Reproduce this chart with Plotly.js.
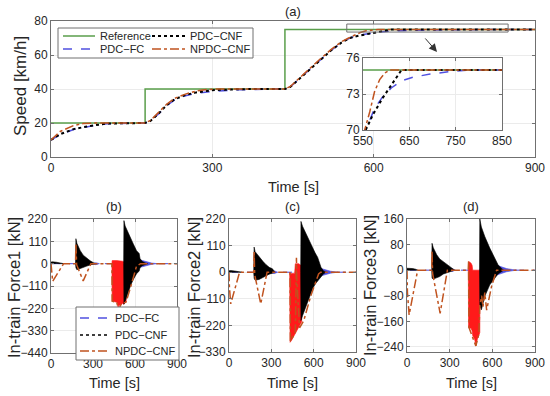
<!DOCTYPE html>
<html><head><meta charset="utf-8">
<script src="https://cdn.plot.ly/plotly-3.0.1.min.js"></script>
<style>html,body{margin:0;padding:0;background:#fff}#chart{width:550px;height:396px}</style>
</head><body><div id="chart"></div>
<script>
// ---------- (a) Speed ----------
const refT = [0, 175, 435, 900];
const refV = [20, 40, 75, 75];

const npdcT = [0,17,42,60,80,120,175,185,200,215,230,250,270,290,310,350,435,445,460,480,500,520,540,553.6,564.5,575,586,597,608,900];
const npdcV = [10,15,18.5,19.7,20,20,20,21.5,26,31,34.5,37,38.8,39.7,40,40,40,41.5,46,52,57.5,63,67.8,70,71.5,73.2,74.2,74.75,75,75];

const cnfT = [0,17,42,73,104,140,175,185,200,215,230,250,270,300,350,400,435,445,460,480,500,520,540,555.8,571.7,593,615,633,900];
const cnfV = [10,13.4,16.4,18.3,19.7,20,20,21.2,25.5,30.5,34,36.5,38,39.3,39.9,40,40,41.2,45.5,51.5,57,62.5,67.3,70,71.3,72.7,74,75,75];

const fcT = [0,17,42,73,104,140,175,185,200,215,230,250,270,300,350,400,435,445,460,480,500,520,540,555.8,575,593,611,633,658,695,745,781,900];
const fcV = [10,13.2,16.2,18.1,19.5,19.9,20,21.2,25.3,30.2,33.6,36,37.5,38.6,39.5,39.9,40,41.2,45.5,51.5,57,62.5,67.3,70,71.8,72.8,73.5,74.1,74.4,74.66,74.9,75,75];

// ---------- (b) In-train Force1 ----------
const f1CnfA_t = [0,10,40,70,90],        f1CnfA_hi = [8,9,7,4,0],    f1CnfA_lo = [0,1,1,0,0];
const f1CnfB_t = [175,178,185,209,230,256,280,303,320];
const f1CnfB_hi = [0,123,100,64,42,27,14,5,0];
const f1CnfB_lo = [0,-20,-30,-25,-20,-12,-6,-3,0];
const f1CnfC_t = [519,521,530,552,570,588,611,630,636,650,670,690];
const f1CnfC_hi = [0,212,185,148,120,97,64,50,25,12,4,0];
const f1CnfC_lo = [0,-200,-185,-140,-105,-78,-50,-36,-20,-10,-4,0];
const f1Red_t = [435,437,470,475,481,483,500,510,520,537,538];
const f1Red_hi = [0,15,15,15,15,15,15,12,10,10,0];
const f1Red_lo = [0,-185,-190,-200,-228,-205,-205,-195,-200,-188,0];
const f1FcA_t = [295,320,345], f1FcA_hi = [0,5,0], f1FcA_lo = [0,-5,0];
const f1FcB_t = [600,640,660,690,720,760];
const f1FcB_hi = [25,18,12,6,3,0];
const f1FcB_lo = [-25,-18,-12,-6,-3,0];
const f1NpdcT = [0,5,12,90,175,178,183,230,285,435,437,470,482,500,520,537,575,611,640,900];
const f1NpdcV = [0,-40,-87,0,0,100,-5,-85,0,0,-185,-190,-230,-200,-195,-188,-100,-12,0,0];

// ---------- (c) In-train Force2 ----------
const f2CnfA_t = [0,10,40,70,90],        f2CnfA_hi = [6,7,5,3,0],    f2CnfA_lo = [0,0,0,0,0];
const f2CnfB_t = [175,178,185,213,240,261,285,308,325];
const f2CnfB_hi = [0,104,85,62,45,32,20,14,0];
const f2CnfB_lo = [0,-25,-33,-30,-22,-15,-8,-4,0];
const f2CnfC_t = [508,510,521,545,570,592,610,628,640,652,670,690];
const f2CnfC_hi = [0,210,190,159,130,104,80,62,40,20,5,0];
const f2CnfC_lo = [0,-200,-180,-140,-100,-69,-50,-36,-28,-18,-6,0];
const f2Red_t = [430,433,445,455,465,470,480,495,505,515,518];
const f2Red_hi = [0,-5,-5,-5,-5,35,35,35,30,30,0];
const f2Red_lo = [0,-290,-280,-270,-255,-250,-245,-230,-215,-205,0];
const f2FcA_t = [290,320,345], f2FcA_hi = [0,6,0], f2FcA_lo = [0,-6,0];
const f2FcB_t = [600,640,660,690,720,770];
const f2FcB_hi = [25,20,14,8,4,0];
const f2FcB_lo = [-25,-20,-14,-8,-4,0];
const f2NpdcT = [0,3,12,75,175,178,182,225,270,433,435,470,478,480,500,530,580,635,650,900];
const f2NpdcV = [0,-60,-131,0,0,90,-10,-131,0,0,-285,-250,60,-20,-230,-200,-97,-7,0,0];

// ---------- (d) In-train Force3 ----------
const f3CnfA_t = [0,10,40,60,75],        f3CnfA_hi = [6,6,5,3,0],    f3CnfA_lo = [0,0,0,0,0];
const f3CnfB_t = [174,176,185,209,230,256,280,302,320,335];
const f3CnfB_hi = [0,84,70,48,35,27,18,13,5,0];
const f3CnfB_lo = [0,-25,-28,-25,-20,-12,-8,-5,-2,0];
const f3CnfC_t = [510,512,523,547,582,616,640,663,680];
const f3CnfC_hi = [0,160,135,105,69,37,17,6,0];
const f3CnfC_lo = [0,-110,-124,-82,-46,-25,-12,-5,0];
const f3Red_t = [431,433,450,458,462,475,485,495,505,512,513];
const f3Red_hi = [0,27,22,15,0,0,0,0,0,0,0];
const f3Red_lo = [0,-180,-182,-190,-205,-215,-237,-215,-205,-195,0];
const f3FcA_t = [300,320,340], f3FcA_hi = [0,4,0], f3FcA_lo = [0,-4,0];
const f3FcB_t = [600,640,665,700,740,770];
const f3FcB_hi = [20,14,9,5,2,0];
const f3FcB_lo = [-20,-14,-9,-5,-2,0];
const f3NpdcT = [0,3,15,75,174,176,180,233,284,431,433,436,484,505,512,525,534,547,560,595,630,900];
const f3NpdcV = [0,-70,-140,0,0,60,-10,-135,0,0,27,-180,-237,-200,-110,-80,-115,-70,-125,-50,0,0];

// ---------- styling ----------
const C_REF = '#5a9e4b', C_FC = '#5050e0', C_CNF = '#000000', C_NPDC = '#c0531f', C_RED = '#ff1a1a';
const FONT = 'Liberation Sans, Arial, sans-serif';
const TXT = '#262626';
const W = 550, H = 396;
const px = v => v / W, py = v => 1 - v / H;

function line(x, y, color, dash, width, xa, ya, shape) {
  return {type:'scatter', mode:'lines', x, y, xaxis:xa, yaxis:ya, showlegend:false, hoverinfo:'skip',
          line:{color, dash, width, shape: shape || 'linear'}};
}
// filled band between lower and upper envelope (two traces, second fills to the first)
function band(t, hi, lo, color, xa, ya) {
  return [
    {type:'scatter', mode:'lines', x:t, y:lo, xaxis:xa, yaxis:ya, showlegend:false, hoverinfo:'skip',
     line:{color, width:0.6}},
    {type:'scatter', mode:'lines', x:t, y:hi, xaxis:xa, yaxis:ya, showlegend:false, hoverinfo:'skip',
     line:{color, width:0.6}, fill:'tonexty', fillcolor:color}
  ];
}

const traces = [];
// main
traces.push(line(refT, refV, C_REF, 'solid', 1.5, 'x', 'y', 'hv'));
traces.push(line(fcT, fcV, C_FC, 'dash', 1.5, 'x', 'y'));
traces.push(line(cnfT, cnfV, C_CNF, 'dot', 2, 'x', 'y'));
traces.push(line(npdcT, npdcV, C_NPDC, 'dashdot', 1.5, 'x', 'y'));
// inset
traces.push(line(refT, refV, C_REF, 'solid', 1.5, 'x2', 'y2', 'hv'));
traces.push(line(fcT, fcV, C_FC, 'dash', 1.5, 'x2', 'y2'));
traces.push(line(cnfT, cnfV, C_CNF, 'dot', 2, 'x2', 'y2'));
traces.push(line(npdcT, npdcV, C_NPDC, 'dashdot', 1.5, 'x2', 'y2'));

const panels = [
  {xa:'x3', ya:'y3', fc:[[f1FcA_t,f1FcA_hi,f1FcA_lo],[f1FcB_t,f1FcB_hi,f1FcB_lo]], red:[f1Red_t,f1Red_hi,f1Red_lo],
   cnf:[[f1CnfA_t,f1CnfA_hi,f1CnfA_lo],[f1CnfB_t,f1CnfB_hi,f1CnfB_lo],[f1CnfC_t,f1CnfC_hi,f1CnfC_lo]], np:[f1NpdcT,f1NpdcV]},
  {xa:'x4', ya:'y4', fc:[[f2FcA_t,f2FcA_hi,f2FcA_lo],[f2FcB_t,f2FcB_hi,f2FcB_lo]], red:[f2Red_t,f2Red_hi,f2Red_lo],
   cnf:[[f2CnfA_t,f2CnfA_hi,f2CnfA_lo],[f2CnfB_t,f2CnfB_hi,f2CnfB_lo],[f2CnfC_t,f2CnfC_hi,f2CnfC_lo]], np:[f2NpdcT,f2NpdcV]},
  {xa:'x5', ya:'y5', fc:[[f3FcA_t,f3FcA_hi,f3FcA_lo],[f3FcB_t,f3FcB_hi,f3FcB_lo]], red:[f3Red_t,f3Red_hi,f3Red_lo],
   cnf:[[f3CnfA_t,f3CnfA_hi,f3CnfA_lo],[f3CnfB_t,f3CnfB_hi,f3CnfB_lo],[f3CnfC_t,f3CnfC_hi,f3CnfC_lo]], np:[f3NpdcT,f3NpdcV]}
];
panels.forEach(p => {
  traces.push(line([0, 900], [0, 0], C_FC, 'dash', 1, p.xa, p.ya));
  p.fc.forEach(b => traces.push(...band(b[0], b[1], b[2], C_FC, p.xa, p.ya)));
  traces.push(...band(p.red[0], p.red[1], p.red[2], C_RED, p.xa, p.ya));
  p.cnf.forEach(b => traces.push(...band(b[0], b[1], b[2], C_CNF, p.xa, p.ya)));
  traces.push(line(p.np[0], p.np[1], C_NPDC, 'dashdot', 1.5, p.xa, p.ya));
});

function ax(domain, range, tickvals, anchor) {
  return {domain, range, tickvals, anchor, showline:true, mirror:'ticks', linecolor:'#707070', linewidth:1,
          ticks:'inside', ticklen:3, tickcolor:'#707070', showgrid:true, gridcolor:'#ebebeb', zeroline:false,
          tickfont:{family:FONT, size:12, color:TXT}, fixedrange:true};
}

const layout = {
  width:W, height:H, margin:{l:0, r:0, t:0, b:0}, paper_bgcolor:'#fff', plot_bgcolor:'#fff', showlegend:false,
  xaxis: ax([px(51), px(535)], [0, 900], [0, 300, 600, 900], 'y'),
  yaxis: ax([py(157), py(21)], [0, 80], [0, 20, 40, 60, 80], 'x'),
  xaxis2: ax([px(363), px(502)], [550, 850], [550, 650, 750, 850], 'y2'),
  yaxis2: ax([py(130), py(58)], [70, 76], [70, 73, 76], 'x2'),
  xaxis3: ax([px(51), px(177)], [0, 900], [0, 300, 600, 900], 'y3'),
  yaxis3: ax([py(353), py(219)], [-440, 220], [-440, -330, -220, -110, 0, 110, 220], 'x3'),
  xaxis4: ax([px(229), px(356)], [0, 900], [0, 300, 600, 900], 'y4'),
  yaxis4: ax([py(352), py(219)], [-330, 220], [-330, -220, -110, 0, 110, 220], 'x4'),
  xaxis5: ax([px(407), px(535)], [0, 900], [0, 300, 600, 900], 'y5'),
  yaxis5: ax([py(352), py(219)], [-256, 160], [-240, -160, -80, 0, 80, 160], 'x5'),
  shapes: [], annotations: []
};

// inset white background
layout.shapes.push({type:'rect', xref:'x2 domain', yref:'y2 domain', x0:0, x1:1, y0:0, y1:1,
  fillcolor:'#fff', line:{width:0}, layer:'below'});
// zoom rectangle in main
layout.shapes.push({type:'rect', xref:'x', yref:'y', x0:550, x1:850, y0:73.5, y1:78.2,
  line:{color:'#707070', width:1}, fillcolor:'rgba(0,0,0,0)'});

// manual legends
function legendBox(x0, y0, x1, y1) {
  layout.shapes.push({type:'rect', xref:'paper', yref:'paper', x0:px(x0), x1:px(x1), y0:py(y1), y1:py(y0),
    fillcolor:'#fff', line:{color:'#707070', width:1}});
}
function legendItem(x0, x1, y, color, dash, width, label) {
  layout.shapes.push({type:'line', xref:'paper', yref:'paper', x0:px(x0), x1:px(x1), y0:py(y), y1:py(y),
    line:{color, dash, width}});
  layout.annotations.push({xref:'paper', yref:'paper', x:px(x1 + 3), y:py(y), xanchor:'left', yanchor:'middle',
    text:label, showarrow:false, font:{family:FONT, size:11, color:TXT}});
}
legendBox(58, 28, 253, 58);
legendItem(63, 95, 36, C_REF, 'solid', 1.5, 'Reference');
legendItem(152, 185, 36, C_CNF, 'dot', 2, 'PDC\u2212CNF');
legendItem(63, 95, 49, C_FC, 'dash', 1.5, 'PDC\u2212FC');
legendItem(152, 185, 49, C_NPDC, 'dashdot', 1.5, 'NPDC\u2212CNF');

legendBox(76, 307, 179, 360);
legendItem(80, 110, 318, C_FC, 'dash', 1.5, 'PDC\u2212FC');
legendItem(80, 110, 335, C_CNF, 'dot', 1.5, 'PDC\u2212CNF');
legendItem(80, 110, 351, C_NPDC, 'dashdot', 1.5, 'NPDC\u2212CNF');

// arrow
layout.annotations.push({xref:'x', yref:'y', axref:'x', ayref:'y', x:717.8, y:61.8, ax:693.6, ay:70.6,
  showarrow:true, arrowhead:2, arrowsize:1.6, arrowwidth:1, arrowcolor:'#333', text:''});

function txt(x, y, s, size, angle) {
  layout.annotations.push({xref:'paper', yref:'paper', x:px(x), y:py(y), xanchor:'center', yanchor:'middle',
    text:s, showarrow:false, textangle:angle || 0, font:{family:FONT, size, color:TXT}});
}
txt(293, 12, '(a)', 13);
txt(114, 206, '(b)', 13);
txt(292.5, 206, '(c)', 13);
txt(471, 206, '(d)', 13);
txt(293, 187, 'Time [s]', 14.5);
txt(114, 383, 'Time [s]', 14.5);
txt(292.5, 383, 'Time [s]', 14.5);
txt(471, 383, 'Time [s]', 14.5);
txt(21, 86, 'Speed [km/h]', 17, -90);
txt(14, 288, 'In-train Force1 [kN]', 16.5, -90);
txt(194, 288, 'In-train Force2 [kN]', 16.5, -90);
txt(370, 286, 'In-train Force3 [kN]', 16.5, -90);

Plotly.newPlot('chart', traces, layout, {staticPlot:true, displayModeBar:false});
</script></body></html>
